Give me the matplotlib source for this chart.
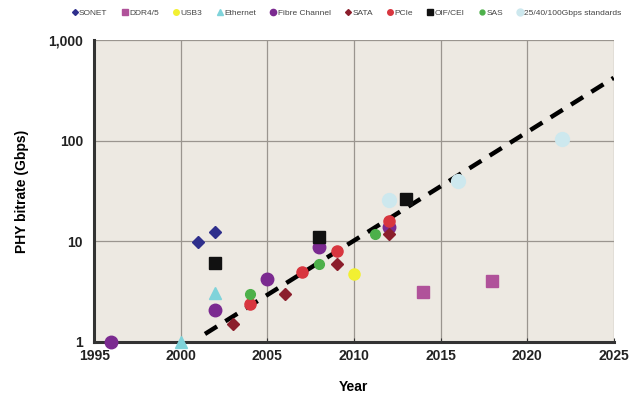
import matplotlib.pyplot as plt
from matplotlib.ticker import FixedLocator, NullLocator

plt.rcParams['font.family'] = ['Liberation Sans', 'DejaVu Sans']

# series: (name, marker, colour, years, Gbps)
sonet_x = [2001, 2002]
sonet_y = [9.8, 12.3]
ddr_x = [2014, 2018]
ddr_y = [3.1, 4.0]
usb_x = [2010]
usb_y = [4.7]
eth_x = [2000, 2002]
eth_y = [1.0, 3.05]
fc_x = [1996, 2002, 2005, 2008, 2012]
fc_y = [1.0, 2.1, 4.2, 8.7, 14]
sata_x = [2003, 2006, 2009, 2012]
sata_y = [1.5, 3.0, 5.9, 11.8]
pcie_x = [2004, 2007, 2009, 2012]
pcie_y = [2.4, 4.9, 8.0, 16]
oif_x = [2002, 2008, 2013]
oif_y = [6.1, 11, 26]
sas_x = [2004, 2008, 2011.2]
sas_y = [3.0, 5.9, 11.8]
std_x = [2012, 2016, 2022]
std_y = [25.6, 40, 103]

trend_x = [2001.4, 2025]
trend_y = [1.2, 420]

x_ticks = [1995, 2000, 2005, 2010, 2015, 2020, 2025]
y_ticks = [1, 10, 100, 1000]
y_labels = ["1", "10", "100", "1,000"]


def main():
    fig = plt.figure(figsize=(6.36, 3.99), dpi=100)
    ax = fig.add_axes([0.148, 0.143, 0.817, 0.757])
    ax.set_facecolor("#EDE9E2")

    ax.plot(trend_x, trend_y, color="black", lw=3.2, ls=(0, (3.2, 2.2)),
            zorder=2, solid_capstyle="butt")

    series = [
        ("SONET", "D", "#2E2F8C", sonet_x, sonet_y, 6),
        ("DDR4/5", "s", "#B0529A", ddr_x, ddr_y, 8),
        ("USB3", "o", "#F2F032", usb_x, usb_y, 8),
        ("Ethernet", "^", "#7FD3DA", eth_x, eth_y, 8),
        ("Fibre Channel", "o", "#7B2A90", fc_x, fc_y, 9),
        ("SATA", "D", "#8B1E2C", sata_x, sata_y, 6),
        ("PCIe", "o", "#D8363F", pcie_x, pcie_y, 8),
        ("OIF/CEI", "s", "#111111", oif_x, oif_y, 8),
        ("SAS", "o", "#4DB04A", sas_x, sas_y, 7),
        ("25/40/100Gbps standards", "o", "#CDE8EE", std_x, std_y, 10),
    ]
    for name, m, c, xs, ys, ms in series:
        ax.plot(xs, ys, ls="none", marker=m, color=c, ms=ms, label=name,
                zorder=3, clip_on=False)

    ax.set_yscale("log")
    ax.set_xlim(1995, 2025)
    ax.set_ylim(1, 1000)
    ax.xaxis.set_major_locator(FixedLocator(x_ticks))
    ax.yaxis.set_major_locator(FixedLocator(y_ticks))
    ax.yaxis.set_minor_locator(NullLocator())
    ax.set_yticklabels(y_labels)
    ax.set_xticks(x_ticks)
    ax.set_xticklabels([str(t) for t in x_ticks])
    for lab in ax.get_xticklabels() + ax.get_yticklabels():
        lab.set_fontweight("bold")
        lab.set_fontsize(10)
        lab.set_color("#222222")
    ax.tick_params(axis="x", direction="in", length=3, pad=5, color="#333333")
    ax.tick_params(axis="y", length=0, pad=8)

    ax.grid(True, color="#9A958F", lw=0.9)
    ax.set_axisbelow(True)
    for s in ["top", "right"]:
        ax.spines[s].set_visible(False)
    for s in ["left", "bottom"]:
        ax.spines[s].set_linewidth(2.2)
        ax.spines[s].set_color("#333333")

    ax.set_xlabel("Year", fontweight="bold", fontsize=10, labelpad=12)
    ax.set_ylabel("PHY bitrate (Gbps)", fontweight="bold", fontsize=10,
                  labelpad=14)

    handles, labels = ax.get_legend_handles_labels()
    leg = fig.legend(handles, labels, loc="upper center",
                     bbox_to_anchor=(0.545, 0.995), ncol=10, fontsize=6,
                     frameon=False, handletextpad=0.1, columnspacing=1.7,
                     handlelength=0.8, markerscale=0.5)
    for t in leg.get_texts():
        t.set_color("#444444")

    fig.savefig("out.png", dpi=100)


if __name__ == "__main__":
    main()
